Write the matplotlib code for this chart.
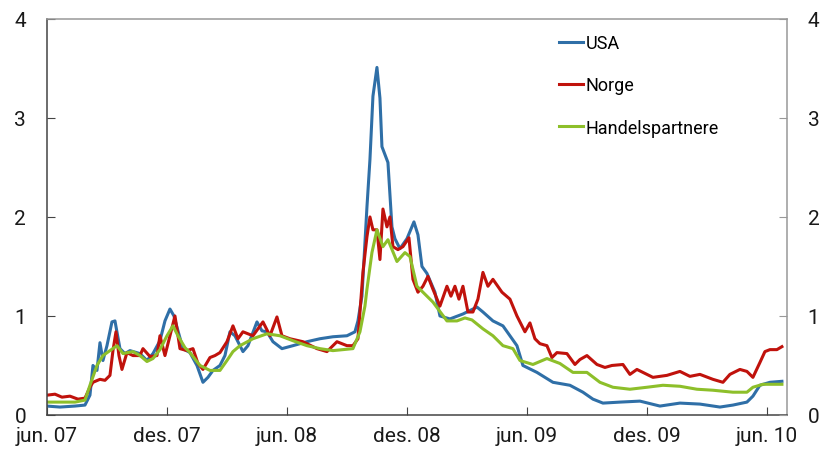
import matplotlib
matplotlib.use("Agg")
import matplotlib.pyplot as plt

# months after 1 June 2007
usa_mnd = [0, 0.65, 1.4, 1.9, 2.15, 2.3, 2.5, 2.65, 2.8, 3.0, 3.25, 3.4, 3.65, 3.9, 4.15, 4.65,
           5.0, 5.3, 5.65, 5.9, 6.15, 6.35, 6.55, 6.8, 7.15, 7.5, 7.8, 8.05, 8.3, 8.65, 8.9, 9.15,
           9.4, 9.8, 10.05, 10.5, 10.75, 11.0, 11.3, 11.75, 12.3, 13.0, 13.65, 14.3, 15.0, 15.4,
           15.55, 15.75, 16.0, 16.15, 16.3, 16.5, 16.65, 16.75, 17.05, 17.25, 17.4, 17.65, 18.0,
           18.35, 18.55, 18.75, 19.0, 19.4, 19.65, 20.15, 20.8, 21.5, 21.8, 22.3, 22.8, 23.15,
           23.5, 23.8, 24.5, 25.3, 26.15, 26.8, 27.3, 27.8, 28.65, 29.65, 30.65, 31.65, 32.65,
           33.65, 34.3, 35.0, 35.3, 35.65, 36.15, 36.75]
usa = [0.09, 0.08, 0.09, 0.1, 0.2, 0.5, 0.45, 0.73, 0.55, 0.7, 0.94, 0.95, 0.67, 0.62, 0.65, 0.62,
       0.55, 0.62, 0.75, 0.95, 1.07, 1.0, 0.85, 0.67, 0.63, 0.5, 0.33, 0.38, 0.45, 0.5, 0.6, 0.84,
       0.8, 0.64, 0.7, 0.94, 0.85, 0.84, 0.74, 0.67, 0.7, 0.74, 0.77, 0.79, 0.8, 0.84,
       0.95, 1.2, 2.1, 2.58, 3.22, 3.51, 3.2, 2.71, 2.55, 1.9, 1.78, 1.68, 1.78,
       1.95, 1.82, 1.5, 1.43, 1.24, 1.0, 0.97, 1.02, 1.09, 1.04, 0.95, 0.9, 0.8,
       0.7, 0.5, 0.43, 0.33, 0.3, 0.23, 0.16, 0.12, 0.13, 0.14, 0.09, 0.12, 0.11,
       0.08, 0.1, 0.13, 0.19, 0.3, 0.33, 0.34]

norge_mnd = [0, 0.4, 0.75, 1.15, 1.55, 1.9, 2.15, 2.3, 2.65, 2.9, 3.15, 3.3, 3.45, 3.6, 3.75, 4.0,
             4.3, 4.65, 4.8, 5.15, 5.5, 5.65, 5.9, 6.15, 6.4, 6.65, 7.0, 7.3, 7.55, 7.8, 8.15, 8.4,
             8.65, 9.0, 9.3, 9.55, 9.8, 10.3, 10.8, 11.15, 11.5, 11.75, 12.15, 12.8, 13.5, 14.0,
             14.5, 15.0, 15.3, 15.55, 15.8, 16.0, 16.15, 16.3, 16.5, 16.65, 16.8, 17.0, 17.15,
             17.3, 17.55, 17.8, 18.1, 18.3, 18.55, 18.8, 19.05, 19.3, 19.65, 20.0, 20.2, 20.4,
             20.6, 20.8, 21.05, 21.3, 21.55, 21.8, 22.05, 22.3, 22.75, 23.15, 23.5, 23.9, 24.15,
             24.4, 24.65, 25.0, 25.25, 25.5, 26.0, 26.4, 26.65, 27.0, 27.5, 27.9, 28.25, 28.8,
             29.15, 29.5, 30.0, 30.3, 31.0, 31.65, 32.15, 32.65, 33.3, 33.8, 34.15, 34.65, 35.0,
             35.3, 35.65, 35.9, 36.15, 36.5, 36.75]
norge = [0.2, 0.21, 0.18, 0.19, 0.16, 0.17, 0.28, 0.33, 0.36, 0.35, 0.4, 0.65, 0.84, 0.6, 0.46, 0.63,
         0.6, 0.6, 0.67, 0.59, 0.6, 0.8, 0.6, 0.8, 1.0, 0.67, 0.65, 0.67, 0.52, 0.46, 0.58, 0.6,
         0.63, 0.74, 0.9, 0.77, 0.84, 0.8, 0.94, 0.8, 0.99, 0.8, 0.77, 0.74, 0.67, 0.64,
         0.74, 0.7, 0.7, 0.77, 1.44, 1.8, 2.0, 1.87, 1.87, 1.57, 2.08, 1.9, 2.0,
         1.7, 1.67, 1.7, 1.79, 1.37, 1.24, 1.3, 1.4, 1.27, 1.1, 1.3, 1.2, 1.3,
         1.17, 1.3, 1.04, 1.04, 1.17, 1.44, 1.3, 1.37, 1.24, 1.17, 1.0, 0.84, 0.93,
         0.77, 0.72, 0.7, 0.58, 0.63, 0.62, 0.51, 0.56, 0.6, 0.51, 0.48, 0.5, 0.51,
         0.41, 0.46, 0.41, 0.38, 0.4, 0.44, 0.39, 0.41, 0.36, 0.33, 0.41, 0.46, 0.44,
         0.38, 0.53, 0.64, 0.66, 0.66, 0.69]

handel_mnd = [0, 0.65, 1.4, 1.9, 2.15, 2.5, 2.8, 3.15, 3.5, 3.8, 4.3, 4.65, 5.0, 5.3, 5.65, 6.0,
              6.3, 6.55, 6.9, 7.15, 7.65, 8.15, 8.65, 9.0, 9.3, 9.65, 10.3, 11.0, 11.65, 12.3,
              13.0, 13.65, 14.3, 15.3, 15.65, 15.9, 16.0, 16.25, 16.5, 16.8, 17.05, 17.5, 17.9,
              18.15, 18.5, 18.8, 19.3, 20.0, 20.5, 20.9, 21.25, 21.8, 22.3, 22.8, 23.3, 23.65,
              24.3, 25.0, 25.65, 26.3, 27.0, 27.65, 28.3, 29.15, 30.0, 30.8, 31.65, 32.5, 33.3,
              34.3, 35.0, 35.3, 35.8, 36.75]
handel = [0.13, 0.13, 0.13, 0.15, 0.3, 0.5, 0.6, 0.65, 0.7, 0.62, 0.64, 0.6, 0.54, 0.57, 0.66, 0.8,
          0.9, 0.8, 0.68, 0.63, 0.5, 0.45, 0.45, 0.55, 0.64, 0.7, 0.77, 0.82, 0.8, 0.75,
          0.7, 0.67, 0.65, 0.67, 0.84, 1.1, 1.27, 1.64, 1.87, 1.7, 1.77, 1.55, 1.64,
          1.6, 1.3, 1.24, 1.14, 0.95, 0.95, 0.98, 0.96, 0.87, 0.8, 0.7, 0.67, 0.55,
          0.51, 0.57, 0.52, 0.43, 0.43, 0.33, 0.28, 0.26, 0.28, 0.3, 0.29, 0.26, 0.25,
          0.23, 0.23, 0.28, 0.31, 0.31]

tick_mnd = [0, 6, 12, 18, 24, 30, 36]
tick_lbl = ["jun. 07", "des. 07", "jun. 08", "des. 08", "jun. 09", "des. 09", "jun. 10"]

plt.rcParams["font.family"] = ["Roboto", "DejaVu Sans"]

fig = plt.figure(figsize=(8.24, 4.6), dpi=100)
ax = fig.add_axes([0.057, 0.0957, 0.898, 0.861])

ax.plot(usa_mnd, usa, color="#2f6fa7", lw=2.2, label="USA")
ax.plot(norge_mnd, norge, color="#c0120c", lw=2.2, label="Norge")
ax.plot(handel_mnd, handel, color="#8dbf2a", lw=2.2, label="Handelspartnere")

ax.set_xlim(0, 37)
ax.set_ylim(0, 4)
ax.set_xticks(tick_mnd)
ax.set_xticklabels(tick_lbl)
ax.set_yticks([0, 1, 2, 3, 4])

for s in ["left", "bottom"]:
    ax.spines[s].set_color("#444444")
    ax.spines[s].set_linewidth(1.1)
for s in ["top", "right"]:
    ax.spines[s].set_color("#999999")
    ax.spines[s].set_linewidth(1.1)

ax.tick_params(axis="both", direction="in", length=6, color="#444444",
               labelsize=15, labelcolor="#1a1a1a")
ax.tick_params(axis="y", left=True, labelleft=True, pad=15)
ax.tick_params(axis="x", pad=8)

# right-hand axis with the same scale
ax2 = ax.twinx()
ax2.set_ylim(ax.get_ylim())
ax2.set_yticks([0, 1, 2, 3, 4])
for s in ax2.spines.values():
    s.set_visible(False)
ax2.tick_params(axis="y", direction="in", length=6, color="#999999",
                labelsize=15, labelcolor="#1a1a1a", pad=15)

ax.legend(loc="upper left", bbox_to_anchor=(0.68, 0.985), frameon=False, fontsize=13,
          handlelength=1.3, handletextpad=0.15, labelspacing=1.35, borderpad=0)

fig.savefig("out.png", dpi=100)
